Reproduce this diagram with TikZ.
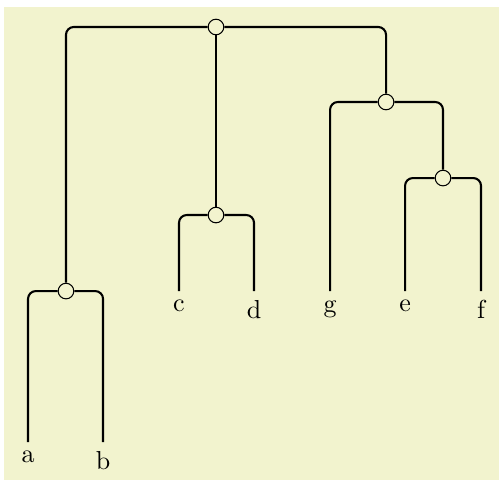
\documentclass[tikz,border=0pt]{standalone}
\usetikzlibrary{positioning}
\definecolor{paper}{RGB}{242,243,206}

\begin{document}
\begin{tikzpicture}[x=1cm,y=1cm]
\tikzset{
  joint/.style={circle,draw,fill=paper,line width=0.4pt,minimum size=6pt,inner sep=0pt},
  leaf/.style={anchor=north,inner sep=3.33pt},
  branch/.style={thick,rounded corners=3pt}
}
\useasboundingbox (0,0) rectangle (6.746,6.490);
\fill[paper] (0.054,0) rectangle (6.746,6.395);
\node[joint] (n_root) at (2.920,6.125) {};
\node[joint] (n_ab) at (0.892,2.555) {};
\node[joint] (n_cd) at (2.920,3.583) {};
\node[joint] (n_gef) at (5.219,5.111) {};
\node[joint] (n_ef) at (5.989,4.083) {};
\node[leaf] (n_a) at (0.379,0.514) {a};
\node[leaf] (n_b) at (1.393,0.514) {b};
\node[leaf] (n_c) at (2.420,2.555) {c};
\node[leaf] (n_d) at (3.434,2.555) {d};
\node[leaf] (n_g) at (4.462,2.555) {g};
\node[leaf] (n_e) at (5.476,2.555) {e};
\node[leaf] (n_f) at (6.503,2.555) {f};
\draw[branch] (n_root) -| (n_ab);
\draw[branch] (n_root) -- (n_cd);
\draw[branch] (n_root) -| (n_gef);
\draw[branch] (n_ab) -| (n_a);
\draw[branch] (n_ab) -| (n_b);
\draw[branch] (n_cd) -| (n_c);
\draw[branch] (n_cd) -| (n_d);
\draw[branch] (n_gef) -| (n_g);
\draw[branch] (n_gef) -| (n_ef);
\draw[branch] (n_ef) -| (n_e);
\draw[branch] (n_ef) -| (n_f);
\end{tikzpicture}
\end{document}
